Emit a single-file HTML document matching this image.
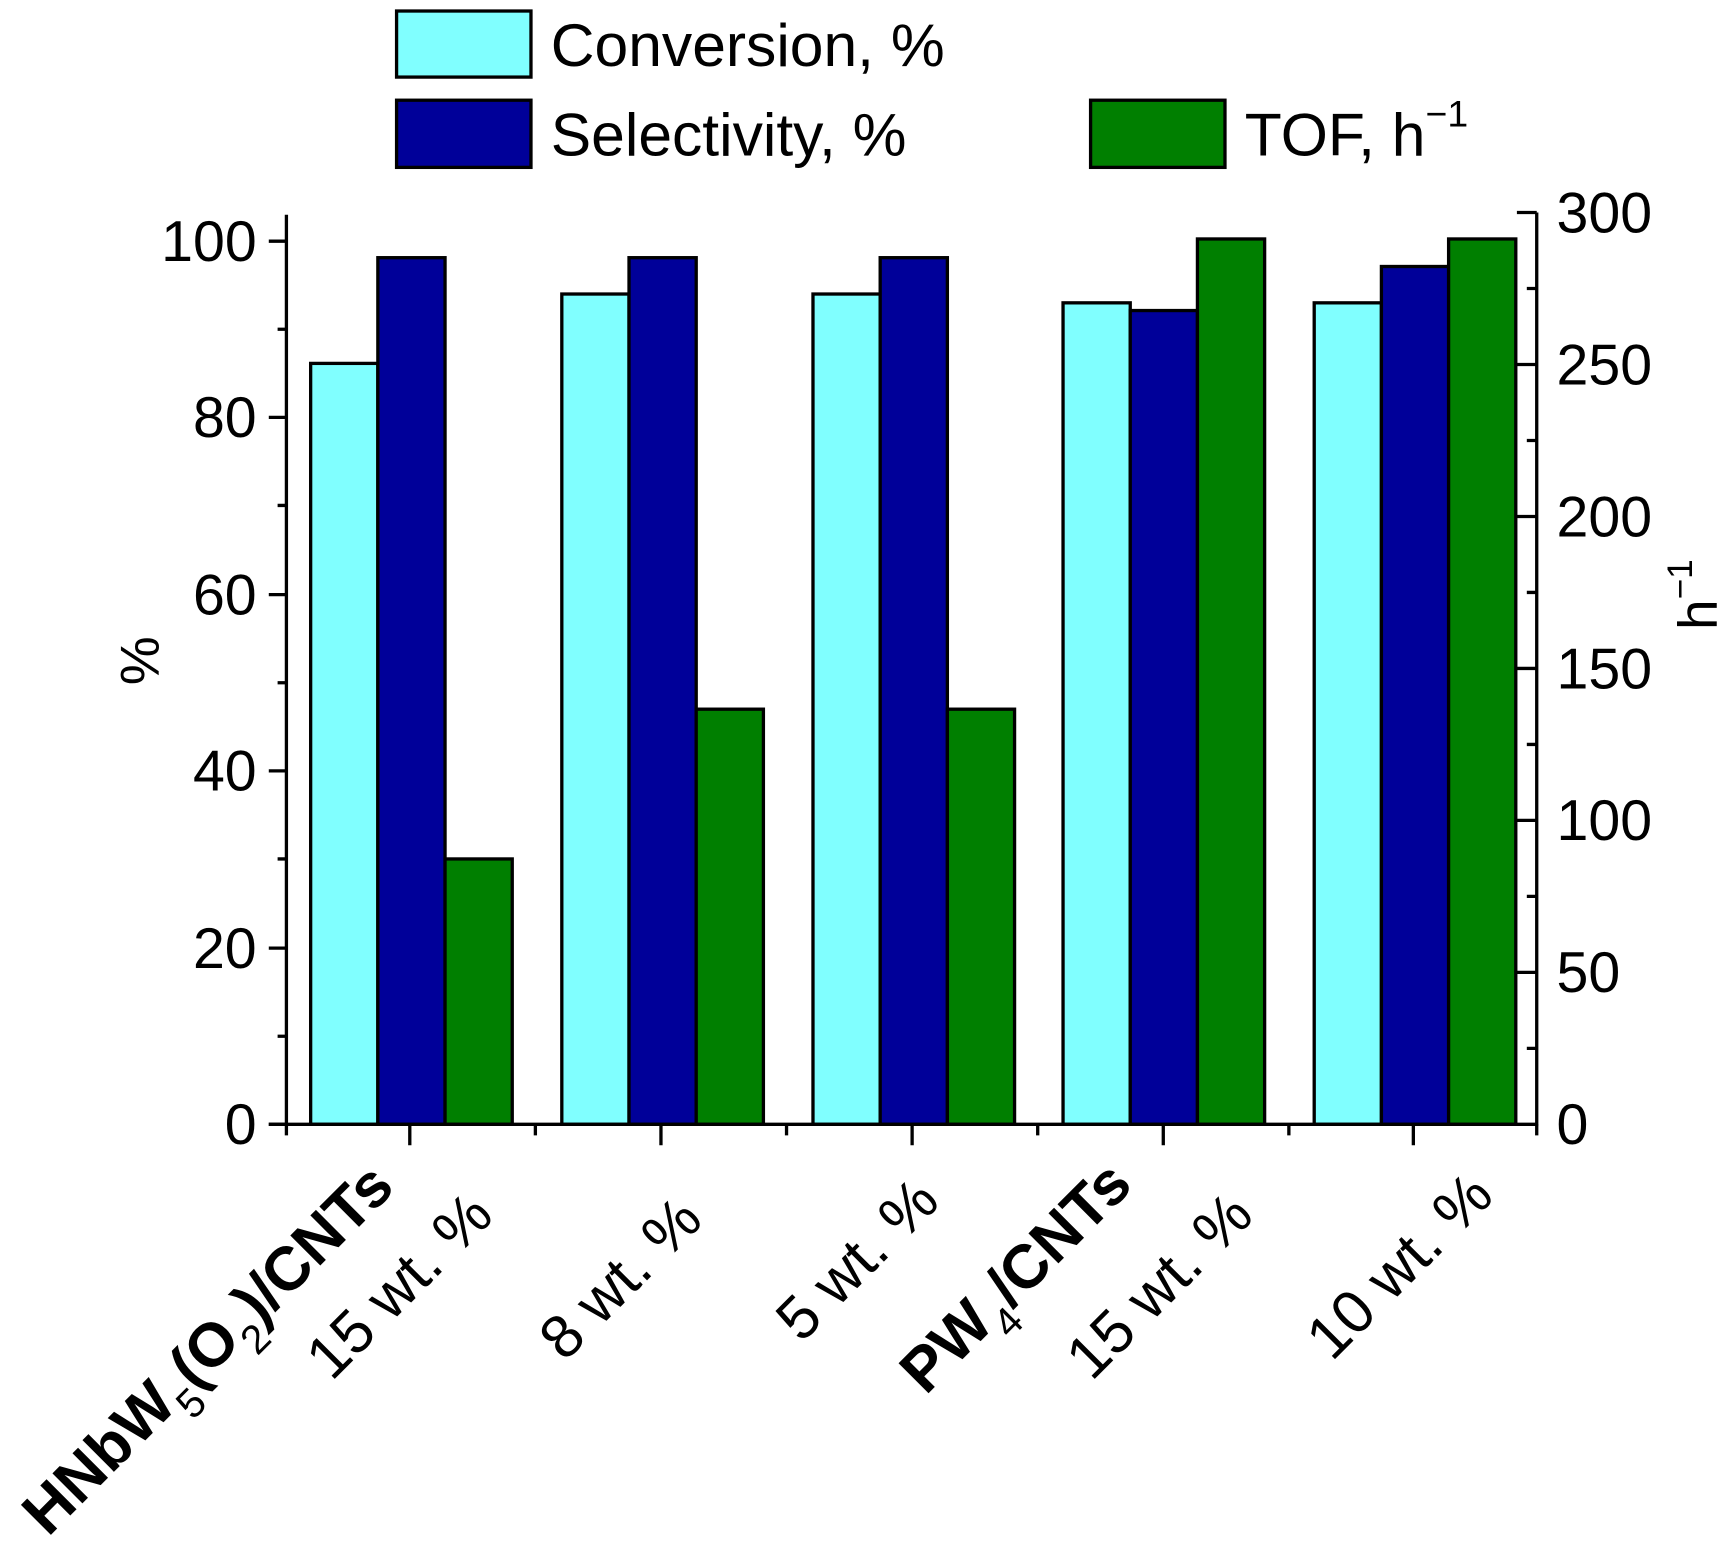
<!DOCTYPE html>
<html><head><meta charset="utf-8"><style>
html,body{margin:0;padding:0;background:#fff;}
svg{display:block;font-family:"Liberation Sans",Arial,sans-serif;}
</style></head><body>
<svg width="1724" height="1545" viewBox="0 0 1565 1403" preserveAspectRatio="none" xmlns="http://www.w3.org/2000/svg">
<rect width="1565" height="1403" fill="#fff"/>
<g stroke="#000" stroke-width="3">
<rect x="360" y="10" width="122" height="60" fill="#80ffff"/>
<rect x="360" y="91" width="122" height="61" fill="#000099"/>
<rect x="990" y="91" width="122" height="61" fill="#007f00"/>
</g>
<g font-size="55" fill="#000">
<text x="500" y="60">Conversion, %</text>
<text x="500" y="141">Selectivity, %</text>
<text x="1130" y="141">TOF, h<tspan font-size="34" dy="-26">−1</tspan></text>
</g>
<g stroke="#000" stroke-width="3">
<rect x="282" y="330" width="61" height="691" fill="#80ffff"/>
<rect x="343" y="234" width="61" height="787" fill="#000099"/>
<rect x="404" y="780" width="61" height="241" fill="#007f00"/>
<rect x="510" y="267" width="61" height="754" fill="#80ffff"/>
<rect x="571" y="234" width="61" height="787" fill="#000099"/>
<rect x="632" y="644" width="61" height="377" fill="#007f00"/>
<rect x="738" y="267" width="61" height="754" fill="#80ffff"/>
<rect x="799" y="234" width="61" height="787" fill="#000099"/>
<rect x="860" y="644" width="61" height="377" fill="#007f00"/>
<rect x="965" y="275" width="61" height="746" fill="#80ffff"/>
<rect x="1026" y="282" width="61" height="739" fill="#000099"/>
<rect x="1087" y="217" width="61" height="804" fill="#007f00"/>
<rect x="1193" y="275" width="61" height="746" fill="#80ffff"/>
<rect x="1254" y="242" width="61" height="779" fill="#000099"/>
<rect x="1315" y="217" width="61" height="804" fill="#007f00"/>
</g>
<g stroke="#000" stroke-width="3" fill="none">
<line x1="260" y1="195" x2="260" y2="1022"/>
<line x1="1395" y1="193" x2="1395" y2="1022"/>
<line x1="244" y1="1021" x2="1396" y2="1021"/>
<path d="M244 219H260M244 379H260M244 540H260M244 700H260M244 861H260M244 1021H260"/>
<path d="M252 299H260M252 459H260M252 620H260M252 780H260M252 941H260"/>
<path d="M1377 193H1395M1377 331H1395M1377 469H1395M1377 607H1395M1377 745H1395M1377 883H1395"/>
<path d="M1386 262H1395M1386 400H1395M1386 538H1395M1386 676H1395M1386 814H1395M1386 952H1395"/>
<path d="M372 1021V1040M600 1021V1040M828 1021V1040M1056 1021V1040M1283 1021V1040"/>
<path d="M260 1021V1031M486 1021V1031M714 1021V1031M942 1021V1031M1170 1021V1031M1395 1021V1031"/>
</g>
<g font-size="52" fill="#000" text-anchor="end">
<text x="233" y="237">100</text>
<text x="233" y="397">80</text>
<text x="233" y="558">60</text>
<text x="233" y="718">40</text>
<text x="233" y="879">20</text>
<text x="233" y="1039">0</text>
</g>
<g font-size="52" fill="#000">
<text x="1413" y="211">300</text>
<text x="1413" y="349">250</text>
<text x="1413" y="487">200</text>
<text x="1413" y="625">150</text>
<text x="1413" y="763">100</text>
<text x="1413" y="901">50</text>
<text x="1413" y="1039">0</text>
</g>
<text transform="translate(144,600) rotate(-90)" font-size="50" text-anchor="middle">%</text>
<text transform="translate(1558,540) rotate(-90)" font-size="50" text-anchor="middle">h<tspan font-size="32" dy="-22">−1</tspan></text>
<g font-size="55" fill="#000" text-anchor="end">
<text transform="translate(450,1106) rotate(-45)">15 wt. %</text>
<text transform="translate(640,1110) rotate(-45)">8 wt. %</text>
<text transform="translate(855,1093) rotate(-45)">5 wt. %</text>
<text transform="translate(1140,1106) rotate(-45)">15 wt. %</text>
<text transform="translate(1358,1088) rotate(-45)">10 wt. %</text>
</g>
<g font-size="56" font-weight="bold" fill="#000" text-anchor="end">
<text transform="translate(360,1080) rotate(-45)">HNbW<tspan font-size="37" font-weight="normal" dy="18">5</tspan><tspan dy="-18">(O</tspan><tspan font-size="37" font-weight="normal" dy="18">2</tspan><tspan dy="-18">)/CNTs</tspan></text>
<text transform="translate(1030,1078) rotate(-45)">PW<tspan font-size="37" font-weight="normal" dy="18">4</tspan><tspan dy="-18">/CNTs</tspan></text>
</g>
</svg>
</body></html>
